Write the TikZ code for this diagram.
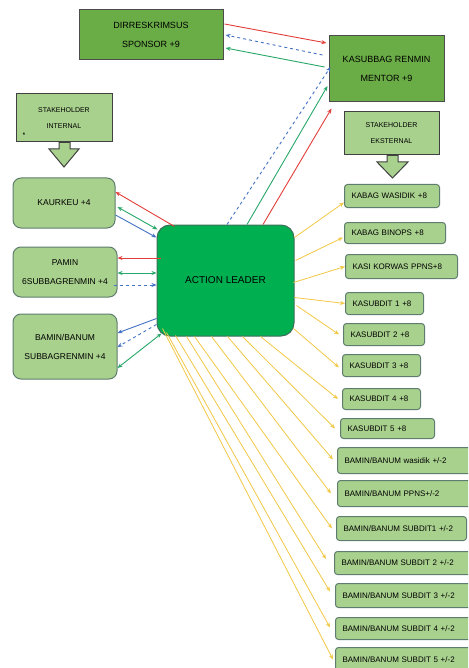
\documentclass[tikz,border=0pt]{standalone}
\usepackage{fontspec}
\setmainfont{Liberation Sans}
\newfontfamily\symfont{DejaVu Sans}
\usetikzlibrary{arrows.meta,calc}
\definecolor{topgreen}{RGB}{106,172,70}
\definecolor{lightg}{RGB}{169,209,142}
\definecolor{lborder}{RGB}{95,125,110}
\definecolor{algreen}{RGB}{0,176,80}
\definecolor{alborder}{RGB}{62,110,90}
\definecolor{cred}{RGB}{226,62,58}
\definecolor{cgrn}{RGB}{40,168,104}
\definecolor{cblu}{RGB}{68,114,196}
\definecolor{cyel}{RGB}{242,200,70}
\begin{document}
\begin{tikzpicture}[x=1pt,y=-1pt,
  topbox/.style={draw=black!70, fill=topgreen, line width=1pt, align=center, inner sep=0pt, font=\fontsize{9}{19}\selectfont},
  shbox/.style={draw=black!75, fill=lightg, line width=1pt, align=center, inner sep=0pt, font=\fontsize{7}{16}\selectfont},
  lbox/.style={draw=lborder, fill=lightg, line width=1pt, rounded corners=8pt, align=center, inner sep=0pt, font=\fontsize{8.5}{19}\selectfont},
  rbox/.style={draw=lborder, fill=lightg, line width=1pt, rounded corners=3pt, inner xsep=7pt, inner ysep=0pt, align=left, anchor=north west, font=\fontsize{8}{10}\selectfont},
  albox/.style={draw=alborder, fill=algreen, line width=1pt, rounded corners=13pt, inner sep=0pt, font=\fontsize{10}{12}\selectfont},
  con/.style={line width=0.9pt},
  ar/.style={con, -{Stealth[length=5pt,width=4pt]}},
  dar/.style={con, {Stealth[length=5pt,width=4pt]}-{Stealth[length=5pt,width=4pt]}},
  yar/.style={line width=0.8pt, cyel, -{Stealth[length=5pt,width=4pt]}},
]
\clip (0,0) rectangle (468,668);
\fill[white] (0,0) rectangle (468,668);

% top boxes
\node[topbox, minimum width=144pt, minimum height=50pt] (dir) at (151,35) {DIRRESKRIMSUS\\SPONSOR +9};
\node[topbox, minimum width=115pt, minimum height=66pt] (kas) at (386.5,69) {KASUBBAG RENMIN\\MENTOR +9};

% stakeholder callouts
\node[shbox, minimum width=96pt, minimum height=48pt] (shin) at (64,118) {STAKEHOLDER\\INTERNAL};
\node[font=\symfont\fontsize{3}{3}\selectfont, inner sep=0pt] (mk) at (24,134) {▲};
\filldraw[draw=black!75, fill=lightg, line width=1pt, line join=miter]
  (59,142.5) -- (70,142.5) -- (70,149) -- (79,149) -- (64,167) -- (49,149) -- (59,149) -- cycle;
\node[shbox, minimum width=95pt, minimum height=43pt] (shex) at (391.5,133.5) {STAKEHOLDER\\EKSTERNAL};
\filldraw[draw=black!75, fill=lightg, line width=1pt, line join=miter]
  (387,155.5) -- (398,155.5) -- (398,162) -- (408,162) -- (392.5,178) -- (377,162) -- (387,162) -- cycle;

% left boxes
\node[lbox, minimum width=102pt, minimum height=50pt] (kau) at (64,203) {KAURKEU +4};
\node[lbox, minimum width=104pt, minimum height=50pt] (pam) at (65,272) {PAMIN\\6SUBBAGRENMIN +4};
\node[lbox, minimum width=104pt, minimum height=65pt] (bam) at (65,346.5) {BAMIN/BANUM\\SUBBAGRENMIN +4};

% action leader
\node[albox, minimum width=137pt, minimum height=111pt] (al) at (225.5,280.5) {ACTION LEADER};

% right boxes
\node[rbox, text width=81pt, minimum height=23pt] (r1) at (344,184) {KABAG WASIDIK +8};
\node[rbox, text width=87pt, minimum height=21pt] (r2) at (344,222) {KABAG BINOPS +8};
\node[rbox, text width=98pt, minimum height=24pt] (r3) at (345,254) {KASI KORWAS PPNS+8};
\node[rbox, text width=64pt, minimum height=22pt] (r4) at (345,292) {KASUBDIT 1 +8};
\node[rbox, text width=67pt, minimum height=22pt] (r5) at (343,323) {KASUBDIT 2 +8};
\node[rbox, text width=64pt, minimum height=22pt] (r6) at (342,354) {KASUBDIT 3 +8};
\node[rbox, text width=64pt, minimum height=21pt] (r7) at (342,388) {KASUBDIT 4 +8};
\node[rbox, text width=80pt, minimum height=20pt] (r8) at (340,418) {KASUBDIT 5 +8};
\node[rbox, text width=120pt, minimum height=26pt] (b1) at (337,447) {BAMIN/BANUM wasidik +/-2};
\node[rbox, text width=120pt, minimum height=26pt] (b2) at (337,480) {BAMIN/BANUM PPNS+/-2};
\node[rbox, text width=116pt, minimum height=24pt] (b3) at (336,516) {BAMIN/BANUM SUBDIT1 +/-2};
\node[rbox, text width=123pt, minimum height=23pt] (b4) at (334,551) {BAMIN/BANUM SUBDIT 2 +/-2};
\node[rbox, text width=122pt, minimum height=24pt] (b5) at (335,583) {BAMIN/BANUM SUBDIT 3 +/-2};
\node[rbox, text width=122pt, minimum height=22pt] (b6) at (335,617) {BAMIN/BANUM SUBDIT 4 +/-2};
\node[rbox, text width=122pt, minimum height=24pt] (b7) at (335,647) {BAMIN/BANUM SUBDIT 5 +/-2};

% top connectors
\draw[ar, cred] ($(dir.east)+(1,-11)$) -- ($(kas.west)+(-2,-26)$);
\draw[ar, cblu, dashed] ($(kas.west)+(-6,-14)$) -- ($(dir.east)+(2,0)$);
\draw[ar, cgrn] ($(kas.west)+(-4,-2)$) -- ($(dir.east)+(2,13)$);
\draw[ar, cblu, dashed] ($(al.north)+(1.5,0)$) -- ($(kas.west)+(2,-2)$);
\draw[ar, cgrn] ($(al.north)+(21.5,0)$) -- ($(kas.west)+(-1,17)$);
\draw[ar, cred] ($(al.north)+(37.5,0)$) -- ($(kas.south west)+(3,6)$);

% left connectors
\draw[ar, cred] ($(al.north west)+(18,2)$) -- ($(kau.east)+(0,-11)$);
\draw[dar, cgrn] ($(kau.east)+(2,4)$) -- ($(al.north west)+(1,5)$);
\draw[ar, cblu] ($(kau.east)+(0,12)$) -- ($(al.north west)+(0,13)$);
\draw[ar, cred] ($(al.west)+(4,-22.5)$) -- ($(pam.east)+(0,-14)$);
\draw[dar, cgrn] ($(pam.east)+(0,1)$) -- ($(al.west)+(0,-7.5)$);
\draw[ar, cblu, dashed] ($(pam.east)+(-4,13)$) -- ($(al.west)+(0,4.5)$);
\draw[ar, cblu] ($(al.south west)+(0,-18)$) -- ($(bam.east)+(0,-13.5)$);
\draw[ar, cblu, dashed] ($(al.south west)+(0,-12)$) -- ($(bam.east)+(0,0.5)$);
\draw[dar, cgrn] ($(bam.east)+(0,21.5)$) -- ($(al.south west)+(5,-3)$);

% yellow connectors
\draw[yar] ($(al.north east)+(0,13)$) -- ($(r1.west)+(0,6.5)$);
\draw[yar] ($(al.north east)+(1,36)$) -- ($(r2.west)+(-1,4.5)$);
\draw[yar] ($(al.north east)+(-1,58)$) -- (r3.west);
\draw[yar] ($(al.north east)+(0,73)$) -- (r4.west);
\draw[yar] ($(al.north east)+(2,81)$) -- ($(r5.west)+(-4,0)$);
\draw[yar] ($(al.north east)+(-1,104)$) -- ($(r6.west)+(-3,2)$);
\draw[yar] ($(al.south east)+(-34,0)$) -- ($(r7.west)+(-4,0)$);
\draw[yar] ($(al.south east)+(-52,0)$) -- ($(r8.west)+(-5,0)$);
\draw[yar] ($(al.south west)+(71,0)$) -- ($(b1.west)+(-4,-1)$);
\draw[yar] ($(al.south west)+(55,0)$) -- ($(b2.west)+(-6,0)$);
\draw[yar] ($(al.south west)+(38,0)$) -- ($(b3.west)+(-4,0)$);
\draw[yar] ($(al.south west)+(30,0)$) -- ($(b4.west)+(-8,-4)$);
\draw[yar] ($(al.south west)+(19,-1)$) -- ($(b5.west)+(-5,-4)$);
\draw[yar] ($(al.south west)+(10,-4)$) -- ($(b6.west)+(-5,-1)$);
\draw[yar] ($(al.south west)+(6,-8)$) -- ($(b7.west)+(-2,0)$);
\end{tikzpicture}
\end{document}
